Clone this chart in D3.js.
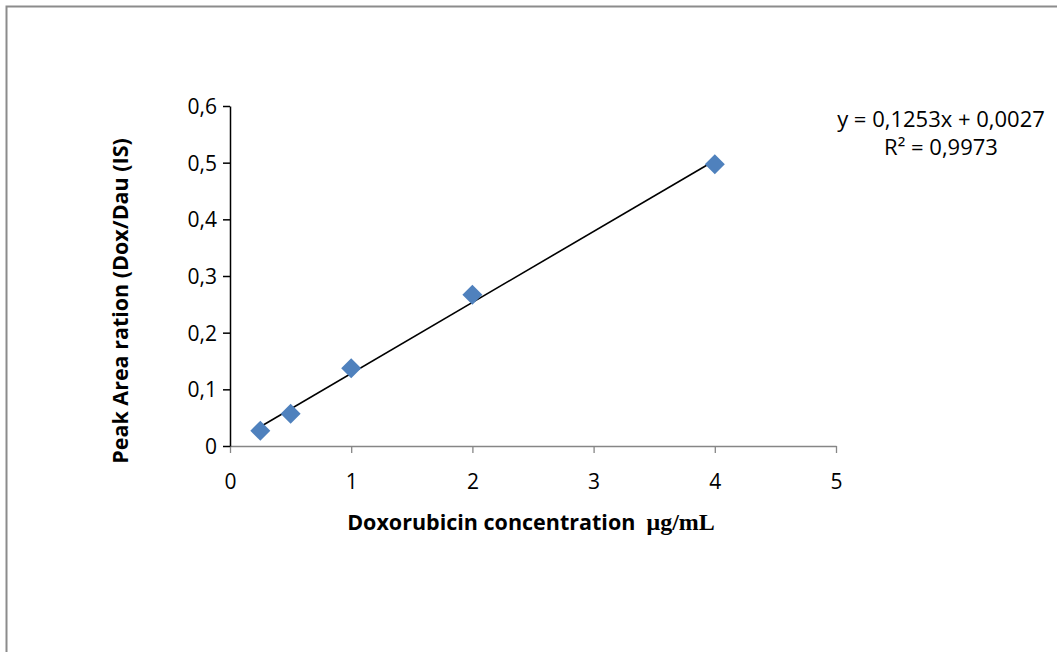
<!DOCTYPE html>
<html>
<head>
<meta charset="utf-8">
<script src="https://cdn.jsdelivr.net/npm/d3@7"></script>
<style>
  body { margin: 0; background: #fff; }
  text { font-family: "Open Sans", "Noto Sans", sans-serif; }
</style>
</head>
<body>
<div id="chart"></div>
<script>
const concentration = [0.25, 0.5, 1, 2, 4];
const peakRatio = [0.027, 0.057, 0.137, 0.267, 0.497];
const slope = 0.1253;
const intercept = 0.0027;
const xTicks = [0, 1, 2, 3, 4, 5];
const yTicks = [0, 0.1, 0.2, 0.3, 0.4, 0.5, 0.6];

const W = 1057, H = 652;
const margin = { top: 106, left: 230 };
const width = 606, height = 340;

const svg = d3.select("#chart").append("svg")
    .attr("width", W)
    .attr("height", H);

// chart area frame (only top and left are visible)
svg.append("rect")
    .attr("x", 6.5).attr("y", 6.5)
    .attr("width", W + 20).attr("height", H + 20)
    .attr("fill", "none")
    .attr("stroke", "#8c8c8c")
    .attr("stroke-width", 2);

const g = svg.append("g").attr("transform", `translate(${margin.left},${margin.top})`);

const x = d3.scaleLinear().domain([0, 5]).range([0, width]);
const y = d3.scaleLinear().domain([0, 0.6]).range([height, 0]);
const fmt = d => d3.format(".1~f")(d).replace(".", ",");

// x axis
const xAxis = g.append("g")
    .attr("transform", `translate(0,${height})`)
    .call(d3.axisBottom(x).tickValues(xTicks).tickSize(7).tickSizeOuter(0).tickFormat(fmt));
xAxis.select(".domain").attr("stroke", "#868686").attr("stroke-width", 1.3);
xAxis.selectAll(".tick line").attr("stroke", "#868686").attr("stroke-width", 1.3);
xAxis.selectAll(".tick text").attr("dy", "0.35em").attr("y", 36)
    .style("font-size", "21px").attr("fill", "#000");

// y axis
const yAxis = g.append("g")
    .call(d3.axisLeft(y).tickValues(yTicks).tickSize(7).tickSizeOuter(0).tickFormat(fmt));
yAxis.select(".domain").attr("stroke", "#000").attr("stroke-width", 1.5);
yAxis.selectAll(".tick line").attr("stroke", "#000").attr("stroke-width", 1.5);
yAxis.selectAll(".tick text").attr("x", -13).attr("dy", "0.35em")
    .style("font-size", "21px").attr("fill", "#000");

// trend line
const xs = d3.extent(concentration);
g.append("line")
    .attr("x1", x(xs[0])).attr("y1", y(slope * xs[0] + intercept))
    .attr("x2", x(xs[1])).attr("y2", y(slope * xs[1] + intercept))
    .attr("stroke", "#000")
    .attr("stroke-width", 1.6);

// points
const pts = concentration.map((c, i) => ({ c, v: peakRatio[i] }));
g.selectAll(".pt").data(pts).enter()
    .append("path")
    .attr("class", "pt")
    .attr("d", d3.symbol().type(d3.symbolSquare).size(200))
    .attr("transform", d => `translate(${x(d.c)},${y(d.v)}) rotate(45)`)
    .attr("fill", "#4f81bd");

// axis titles
const xTitle = svg.append("text")
    .attr("x", 531).attr("y", 530)
    .attr("text-anchor", "middle")
    .style("font-size", "21.5px")
    .style("font-weight", "bold");
xTitle.append("tspan").text("Doxorubicin concentration\u00a0\u00a0");
xTitle.append("tspan")
    .style("font-family", "'Liberation Serif', 'DejaVu Serif', serif")
    .style("font-size", "24px")
    .text("μg/mL");

svg.append("text")
    .attr("transform", `translate(128,301) rotate(-90)`)
    .attr("text-anchor", "middle")
    .style("font-size", "21.5px")
    .style("font-weight", "bold")
    .text("Peak Area ration (Dox/Dau (IS)");

// equation label
const eq = svg.append("text")
    .attr("text-anchor", "middle")
    .style("font-size", "22px")
    .attr("fill", "#000");
eq.append("tspan").attr("x", 941).attr("y", 127)
    .text(`y = ${String(slope).replace(".", ",")}x + ${intercept.toFixed(4).replace(".", ",")}`);
eq.append("tspan").attr("x", 941).attr("y", 155).text("R² = 0,9973");
</script>
</body>
</html>
